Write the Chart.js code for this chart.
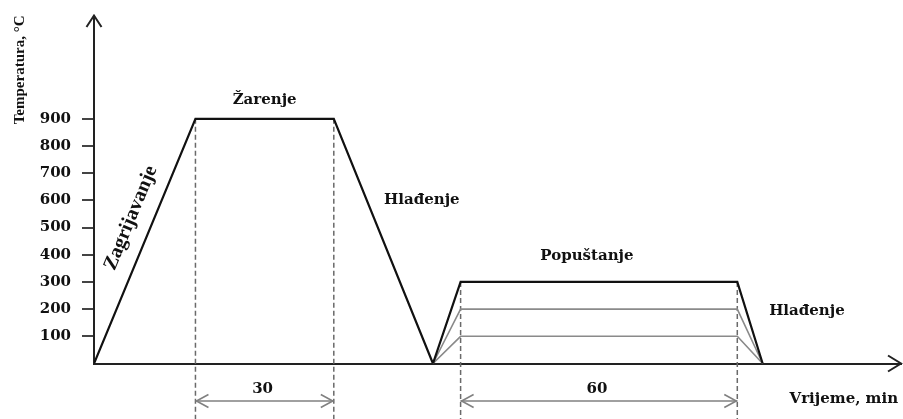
<!DOCTYPE html>
<html>
<head>
<meta charset="utf-8">
<script src="https://cdn.jsdelivr.net/npm/chart.js@4.4.1/dist/chart.umd.min.js"></script>
<style>
  html, body { margin: 0; padding: 0; background: #fff; }
  canvas { display: block; }
</style>
</head>
<body>
<canvas id="heatChart" width="903" height="419"></canvas>
<script>
// vrijeme (min) i temperatura (°C)
const mainTimes = [0, 22, 52, 73.5, 79.5, 139.5, 145];
const mainTemps = [0, 900, 900, 0, 300, 300, 0];
const temperTimes = [73.5, 79.5, 139.5, 145];
const temper200 = [0, 200, 200, 0];
const temper100 = [0, 100, 100, 0];
const yTicks = [100, 200, 300, 400, 500, 600, 700, 800, 900];

// isprekidane vertikale i kote
const markTimes = [22, 52, 79.5, 139.5];
const markTemps = [900, 900, 300, 300];
const spanFrom = [22, 79.5];
const spanTo = [52, 139.5];
const spanTexts = ['30', '60'];
const belowAxis = -210;
const dimLevel = -138;

// natpisi faza
const labelTexts = ['Žarenje', 'Hlađenje', 'Popuštanje', 'Hlađenje', 'Vrijeme, min'];
const labelTimes = [37, 71.1, 106.9, 154.6, 162.6];
const labelTemps = [955, 587, 381, 180, -145];

const toPoints = (xs, ys) => xs.map((x, i) => ({ x: x, y: ys[i] }));

const datasets = [
    { data: toPoints(mainTimes, mainTemps), borderColor: '#111', borderWidth: 2.2 },
    { data: toPoints(temperTimes, temper200), borderColor: '#8a8a8a', borderWidth: 1.6 },
    { data: toPoints(temperTimes, temper100), borderColor: '#8a8a8a', borderWidth: 1.6 }
];
markTimes.forEach((t, i) => {
    datasets.push({
        data: [{ x: t, y: markTemps[i] }, { x: t, y: belowAxis }],
        borderColor: '#6a6a6a', borderWidth: 1.5, borderDash: [5, 3], clip: false
    });
});
spanFrom.forEach((t, i) => {
    datasets.push({
        data: [{ x: t, y: dimLevel }, { x: spanTo[i], y: dimLevel }],
        borderColor: '#808080', borderWidth: 1.6, clip: false, arrows: true,
        spanText: spanTexts[i]
    });
});

const textFont = 'bold 15px "DejaVu Serif"';

const decorPlugin = {
    id: 'decor',
    afterDraw(chart) {
        const ctx = chart.ctx;
        const { left, right, top, bottom } = chart.chartArea;
        const xs = chart.scales.x, ys = chart.scales.y;
        ctx.save();

        // strelice na osima
        ctx.strokeStyle = '#222';
        ctx.lineWidth = 2;
        ctx.beginPath();
        ctx.moveTo(left - 7.5, top + 11.5); ctx.lineTo(left, top); ctx.lineTo(left + 7.5, top + 11.5);
        ctx.moveTo(right - 13, bottom - 8); ctx.lineTo(right, bottom); ctx.lineTo(right - 13, bottom + 8);
        ctx.stroke();

        // kote s vrhovima strelica
        chart.data.datasets.forEach((ds, i) => {
            if (!ds.arrows) return;
            const pts = chart.getDatasetMeta(i).data;
            const a = pts[0], b = pts[pts.length - 1];
            ctx.strokeStyle = ds.borderColor;
            ctx.lineWidth = 1.6;
            ctx.beginPath();
            ctx.moveTo(a.x + 13, a.y - 6.5); ctx.lineTo(a.x + 1, a.y); ctx.lineTo(a.x + 13, a.y + 6.5);
            ctx.moveTo(b.x - 13, b.y - 6.5); ctx.lineTo(b.x - 1, b.y); ctx.lineTo(b.x - 13, b.y + 6.5);
            ctx.stroke();
            ctx.fillStyle = '#111';
            ctx.font = textFont;
            ctx.textAlign = 'center';
            ctx.textBaseline = 'alphabetic';
            ctx.fillText(ds.spanText, (a.x + b.x) / 2 - 2, ys.getPixelForValue(-110));
        });

        ctx.fillStyle = '#111';
        ctx.font = textFont;
        ctx.textAlign = 'center';
        ctx.textBaseline = 'alphabetic';
        labelTexts.forEach((txt, i) => {
            ctx.fillText(txt, xs.getPixelForValue(labelTimes[i]), ys.getPixelForValue(labelTemps[i]));
        });

        // Zagrijavanje uz liniju zagrijavanja
        const x0 = xs.getPixelForValue(mainTimes[0]), y0 = ys.getPixelForValue(mainTemps[0]);
        const x1 = xs.getPixelForValue(mainTimes[1]), y1 = ys.getPixelForValue(mainTemps[1]);
        ctx.translate(xs.getPixelForValue(8), ys.getPixelForValue(535));
        ctx.rotate(Math.atan2(y1 - y0, x1 - x0));
        ctx.font = 'bold 20px "Liberation Serif"';
        ctx.textBaseline = 'middle';
        ctx.fillText('Zagrijavanje', 0, 0);
        ctx.restore();
    }
};

new Chart(document.getElementById('heatChart').getContext('2d'), {
    type: 'line',
    data: { datasets: datasets },
    options: {
        responsive: false,
        animation: false,
        devicePixelRatio: 1,
        layout: { padding: { top: 15.5, right: 2, left: 0, bottom: 0 } },
        elements: {
            point: { radius: 0 },
            line: { tension: 0 }
        },
        scales: {
            x: {
                type: 'linear',
                min: 0,
                max: 175,
                ticks: { display: false },
                grid: { display: false },
                border: { display: true, color: '#222', width: 2 },
                afterFit: (s) => { s.height = 55.5; s.paddingLeft = 0; s.paddingRight = 0; }
            },
            y: {
                type: 'linear',
                min: 0,
                max: 1280,
                afterBuildTicks: (s) => { s.ticks = yTicks.map(v => ({ value: v })); },
                afterFit: (s) => { s.width = 94; s.paddingTop = 0; s.paddingBottom = 0; },
                ticks: {
                    color: '#111',
                    padding: 11,
                    font: { family: 'DejaVu Serif', size: 15, weight: 'bold' }
                },
                grid: {
                    drawOnChartArea: false,
                    drawTicks: true,
                    tickLength: 12,
                    color: '#444',
                    lineWidth: 2
                },
                border: { display: true, color: '#222', width: 2 },
                title: {
                    display: true,
                    text: 'Temperatura, °C',
                    align: 'end',
                    color: '#111',
                    padding: { top: 11, bottom: 0 },
                    font: { family: 'Liberation Serif', size: 15, weight: 'bold' }
                }
            }
        },
        plugins: {
            legend: { display: false },
            tooltip: { enabled: false }
        }
    },
    plugins: [decorPlugin]
});
</script>
</body>
</html>
